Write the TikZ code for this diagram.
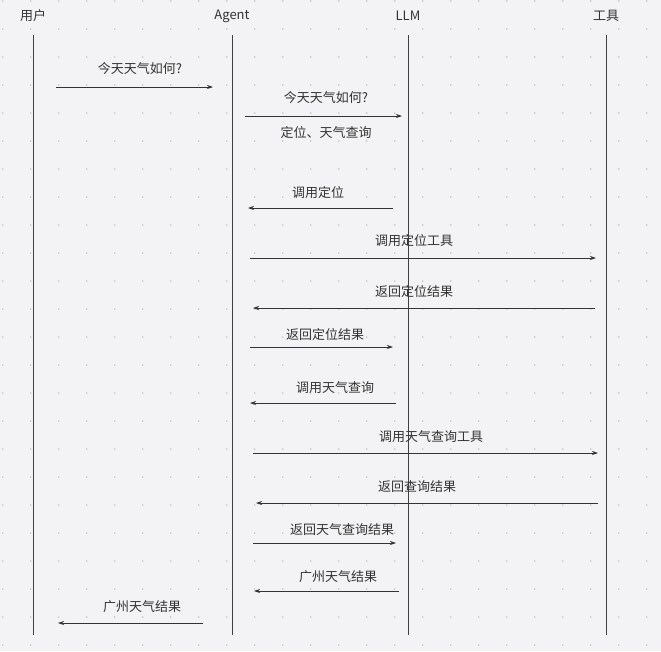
\documentclass[tikz,border=0pt]{standalone}
\usepackage{fontspec}
\setmainfont{Noto Sans CJK SC}
\usetikzlibrary{arrows.meta}
\begin{document}
\begin{tikzpicture}[x=1pt,y=-1pt,
  life/.style={draw=black!75,line width=0.9pt},
  msg/.style={draw=black!80,line width=0.7pt,-{Stealth[length=6pt,width=4pt]}},
  lbl/.style={font=\fontsize{13}{15}\selectfont,text=black!80,inner sep=0pt},
  hdr/.style={font=\fontsize{13}{15}\selectfont,text=black!80,inner sep=0pt}]
\fill[fill={rgb,255:red,243;green,243;blue,245}] (0,0) rectangle (661,651);
\useasboundingbox (0,0) rectangle (661,651);
\foreach \i in {0,...,23}{\foreach \j in {0,...,23}{
  \fill[black!25] (2.7+28*\i,1+28*\j) circle (0.8);}}
\foreach \n/\x/\t in {u/33/用户,a/232/Agent,l/408/LLM,t/606/工具}{
  \node[hdr] (h\n) at (\x,16) {\t};
  \coordinate (top\n) at (\x,35); \coordinate (bot\n) at (\x,635);
  \draw[life] (top\n) -- (bot\n);}
\foreach \k/\y/\xa/\xb/\ly/\lx/\t in {
 1/87/56/213/69/140/今天天气如何?,
 2/116/245/402/98/326/今天天气如何?,
 3/208/393/248/193/318/调用定位,
 4/258/250/596/241/414/调用定位工具,
 5/308/595/253/292/414/返回定位结果,
 6/347/250/393/335/325/返回定位结果,
 7/403/396/250/388/335/调用天气查询,
 8/453/253/598/437/431/调用天气查询工具,
 9/503/598/256/487/417/返回查询结果,
 10/543/253/396/530/342/返回天气查询结果,
 11/591/399/254/577/338/广州天气结果,
 12/623/203/58/607/142/广州天气结果}{
  \coordinate (s\k) at (\xa,\y); \coordinate (e\k) at (\xb,\y);
  \draw[msg] (s\k) -- (e\k);
  \node[lbl] (m\k) at (\lx,\ly) {\t};}
\node[lbl] (m2b) at (326,133) {定位、天气查询};
\end{tikzpicture}
\end{document}
